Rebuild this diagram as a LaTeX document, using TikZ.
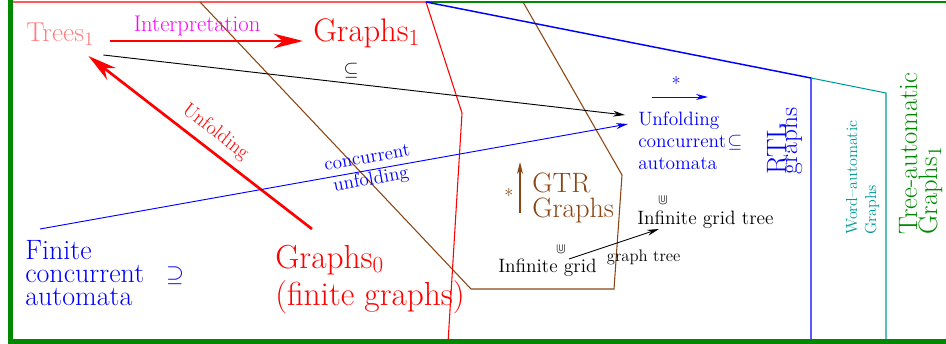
\documentclass[tikz,border=0pt]{standalone}
\usepackage{amsmath,amssymb}
\usetikzlibrary{arrows.meta,calc}
\definecolor{framegreen}{HTML}{008800}
\definecolor{gtrbrown}{HTML}{8B4513}
\definecolor{autoteal}{HTML}{009999}
\definecolor{treepink}{HTML}{FF8080}
\definecolor{interpmagenta}{HTML}{FF00FF}
\newcommand{\fsz}[2]{\fontsize{#1}{#2}\selectfont}

\begin{document}
\begin{tikzpicture}[x=.75pt,y=-.75pt,
  txt/.style={inner sep=0pt,anchor=base west,align=left},
  bigarrow/.style={red,line width=2pt,-{Stealth[length=22pt,width=11pt,inset=7pt]}},
  thinarrow/.style={line width=.7pt,-{Stealth[length=9pt,width=4.5pt]}},
  region/.style={line width=.8pt}]
  \useasboundingbox (0,0) rectangle (946,343);
  % the classes
  \draw[region,red] (10,2)--(426,2)--(462,113)--(448,343);
  \draw[region,framegreen] (426,2)--(946,2);
  \draw[region,gtrbrown] (200,2)--(471,289)--(614,289)--(622,175)--(523,2);
  \draw[region,blue,line width=1.1pt] (426,2)--(811,78)--(811,341);
  \draw[region,blue,line width=1.5pt] (773,342.5)--(811,342.5);
  \draw[region,autoteal] (811,78)--(886,93)--(886,341);
  \draw[framegreen,line width=3.75pt] (10,0)--(10,341.5)--(946,341.5);

  % (base west = baseline of the last line)
  \node[txt,treepink,font=\fsz{20.5}{24}] (trees) at (26,41) {Trees$_1$};
  \node[txt,red,font=\fsz{24.5}{28}] (graphs1) at (313,41) {Graphs$_1$};
  \node[txt,red,font=\fsz{25}{27.75}] (graphs0) at (275,305) {Graphs$_0$\\(finite graphs)};
  \node[txt,blue,font=\fsz{21}{17}] (fca) at (25,305) {Finite\\concurrent\\automata};
  \node[blue,font=\fsz{16}{19}] (supset) at (175,276) {$\supseteq$};
  \node[txt,gtrbrown,font=\fsz{21}{18.75}] (gtr) at (532,217) {GTR\\Graphs};
  \node[txt,blue,font=\fsz{14.5}{16.5}] (ufca) at (638,169)
    {Unfolding\\concurrent\kern1pt$\subseteq$\\automata};
  \node[txt,font=\fsz{14.5}{17}] (igt) at (637,224) {Infinite grid tree};
  \node[txt,font=\fsz{14.5}{17}] (ig) at (498,272) {Infinite grid};
  \node[font=\fsz{11}{13}] (igtcup) at (663,200) {$\Cup$};
  \node[font=\fsz{11}{13}] (igcup) at (561,249) {$\Cup$};
  \node[txt,blue,rotate=90,font=\fsz{19}{14}] (rtl) at (797,175) {{\fsz{21}{14}RTL}\\[-6pt]graphs};
  \node[txt,autoteal,rotate=90,font=\fsz{12}{14.25}] (wag) at (876,235) {Word--automatic\\Graphs};
  \node[txt,framegreen,rotate=90,font=\fsz{20}{15}] (tag) at (937,235) {Tree-automatic\\Graphs$_1$};

  % arrows between the classes
  \draw[bigarrow] ([xshift=12pt]trees.base east) -- ([xshift=-7.5pt]graphs1.base west)
    node[pos=.45,above=3pt,inner sep=0pt,interpmagenta,font=\fsz{17}{20}] {Interpretation};
  \draw[bigarrow] ([shift={(37,-76)}]graphs0.base west) -- ([shift={(-6,15)}]trees.base east)
    node[pos=.48,sloped,above=2pt,font=\fsz{15}{18}] {Unfolding};
  \draw[thinarrow] ([shift={(9,14)}]trees.base east) -- ([shift={(-13,-54)}]ufca.base west)
    node[pos=.475,above=0pt,font=\fsz{14}{16}] {$\subseteq$};
  \draw[thinarrow,blue] ([shift={(15,-76)}]fca.base west) -- ([shift={(-10,-45)}]ufca.base west)
    node[pos=.56,sloped,align=center,font=\fsz{14.3}{16.5}] {concurrent\\unfolding};
  \draw[thinarrow,blue] ([shift={(14,-72)}]ufca.base west) -- ([shift={(70,-72)}]ufca.base west)
    node[pos=.43,above=1pt,font=\fsz{14}{16}] {*};
  \draw[thinarrow,gtrbrown,line width=1.2pt] ([shift={(-12,-4)}]gtr.base west) -- ([shift={(-12,-55)}]gtr.base west)
    node[pos=.35,left=1pt,font=\fsz{14}{16}] {*};
  \draw[thinarrow] ([shift={(71,-13)}]ig.base west) -- ([shift={(22,5)}]igt.base west)
    node[pos=.83,below=8pt,font=\fsz{12.5}{15}] {graph tree};
\end{tikzpicture}
\end{document}
